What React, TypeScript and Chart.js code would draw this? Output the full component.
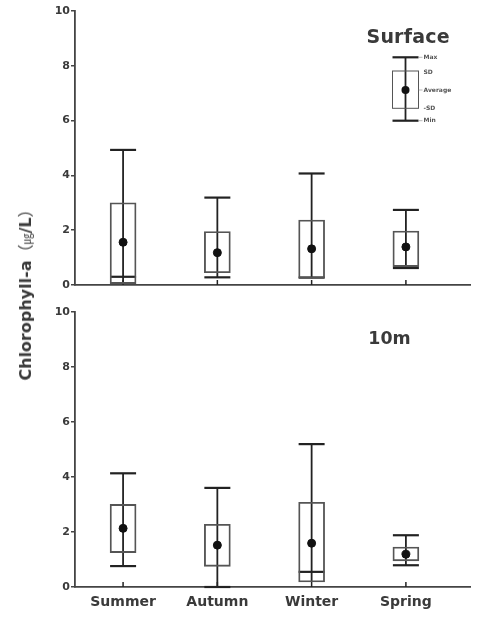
import React, { useEffect, useRef } from 'react';
import { Chart, registerables } from 'chart.js';

Chart.register(...registerables);

const categories = ['Summer', 'Autumn', 'Winter', 'Spring'];
const yTickValues = [0, 2, 4, 6, 8, 10];

const surfaceMax = [4.93, 3.19, 4.07, 2.74];
const surfaceSdHigh = [3.0, 1.95, 2.37, 1.97];
const surfaceMean = [1.56, 1.18, 1.32, 1.39];
const surfaceSdLow = [0.05, 0.45, 0.25, 0.67];
const surfaceMin = [0.3, 0.28, 0.27, 0.62];

const tenMax = [4.13, 3.6, 5.19, 1.88];
const tenSdHigh = [3.0, 2.28, 3.08, 1.45];
const tenMean = [2.13, 1.52, 1.59, 1.19];
const tenSdLow = [1.25, 0.75, 0.18, 0.95];
const tenMin = [0.76, 0, 0.55, 0.79];

const legendLabels = ['Max', 'SD', 'Average', '-SD', 'Min'];

const FONT = "'DejaVu Sans', Arial, sans-serif";
const CJK = "'Noto Sans CJK KR', 'Noto Sans CJK SC', sans-serif";
const AXIS = '#444';
const TEXT = '#3a3a3a';

type Panel = {
  max: number[];
  sdHigh: number[];
  mean: number[];
  sdLow: number[];
  min: number[];
  title: string;
  titleX: number;
  titleY: number;
  titleSize: number;
  titleSpacing: string;
  showLabels: boolean;
  legend: boolean;
  padTop: number;
  padBottom: number;
  xHeight: number;
};

function makeChart(canvas: HTMLCanvasElement, p: Panel) {
  const whiskerPlugin = {
    id: 'whiskers',
    beforeDatasetsDraw(chart: any) {
      const ctx = chart.ctx;
      const xs = chart.scales.x;
      const ys = chart.scales.y;
      const area = chart.chartArea;
      ctx.save();
      ctx.strokeStyle = '#222';
      ctx.lineWidth = 1.5;
      categories.forEach((_, i) => {
        const x = xs.getPixelForValue(i + 1);
        ctx.beginPath();
        ctx.moveTo(x, area.bottom);
        ctx.lineTo(x, area.bottom - 5);
        ctx.stroke();
      });
      categories.forEach((_, i) => {
        const x = xs.getPixelForValue(i + 1);
        const yTop = ys.getPixelForValue(p.max[i]);
        const yBot = ys.getPixelForValue(Math.min(p.min[i], p.sdLow[i]));
        ctx.lineWidth = 1.8;
        ctx.beginPath();
        ctx.moveTo(x, yTop);
        ctx.lineTo(x, yBot);
        ctx.stroke();
        ctx.lineWidth = 2.2;
        [p.max[i], p.min[i]].forEach((v) => {
          const y = ys.getPixelForValue(v);
          ctx.beginPath();
          ctx.moveTo(x - 13, y);
          ctx.lineTo(x + 13, y);
          ctx.stroke();
        });
      });
      ctx.restore();
    },
    afterDraw(chart: any) {
      const ctx = chart.ctx;
      ctx.save();
      ctx.fillStyle = TEXT;
      ctx.font = `bold ${p.titleSize}px ${FONT}`;
      (ctx as any).letterSpacing = p.titleSpacing;
      ctx.textAlign = 'left';
      ctx.textBaseline = 'alphabetic';
      ctx.fillText(p.title, p.titleX, p.titleY);
      (ctx as any).letterSpacing = '0px';
      if (p.legend) {
        const cx = 405.5;
        const hw = 13;
        const yMax = 57.3, ySd = 71, yAvg = 90, yNsd = 108.3, yMin = 120.7;
        ctx.strokeStyle = '#222';
        ctx.lineWidth = 1.8;
        ctx.beginPath();
        ctx.moveTo(cx, yMax);
        ctx.lineTo(cx, yMin);
        ctx.stroke();
        ctx.lineWidth = 2.2;
        [yMax, yMin].forEach((y) => {
          ctx.beginPath();
          ctx.moveTo(cx - hw, y);
          ctx.lineTo(cx + hw, y);
          ctx.stroke();
        });
        ctx.strokeStyle = '#555';
        ctx.lineWidth = 1;
        ctx.strokeRect(cx - hw, ySd, hw * 2, yNsd - ySd);
        ctx.lineWidth = 0.6;
        ctx.strokeStyle = '#888';
        [yMax, yAvg, yMin].forEach((y) => {
          ctx.beginPath();
          ctx.moveTo(cx + hw, y);
          ctx.lineTo(cx + hw + 4, y);
          ctx.stroke();
        });
        ctx.fillStyle = '#111';
        ctx.beginPath();
        ctx.arc(cx, yAvg, 4, 0, Math.PI * 2);
        ctx.fill();
        ctx.fillStyle = '#555';
        ctx.font = `bold 6px ${FONT}`;
        ctx.textBaseline = 'middle';
        const ys = [yMax, ySd + 1, yAvg, yNsd, yMin];
        legendLabels.forEach((t, i) => ctx.fillText(t, cx + hw + 5, ys[i]));
      }
      ctx.restore();
    },
  };

  return new Chart(canvas, {
    type: 'bar',
    data: {
      datasets: [
        {
          type: 'bar',
          data: categories.map((_, i) => ({ x: i + 1, y: [p.sdLow[i], p.sdHigh[i]] })) as any,
          backgroundColor: 'rgba(0,0,0,0)',
          borderColor: '#555',
          borderWidth: 1.2,
          borderSkipped: false,
          barThickness: 26,
        } as any,
        {
          type: 'scatter',
          data: categories.map((_, i) => ({ x: i + 1, y: p.mean[i] })),
          backgroundColor: '#111',
          borderColor: '#111',
          pointRadius: 4,
          pointHoverRadius: 4,
        } as any,
      ],
    },
    options: {
      responsive: false,
      animation: false,
      devicePixelRatio: 1,
      layout: { padding: { left: 30, right: 9, top: p.padTop, bottom: p.padBottom } },
      plugins: { legend: { display: false }, tooltip: { enabled: false } },
      scales: {
        x: {
          type: 'linear',
          min: 0.49,
          max: 4.68,
          offset: false,
          afterBuildTicks: (s: any) => {
            s.ticks = categories.map((_, i) => ({ value: i + 1 }));
          },
          afterFit: (s: any) => {
            s.height = p.xHeight;
          },
          ticks: {
            display: p.showLabels,
            autoSkip: false,
            maxRotation: 0,
            padding: 7,
            color: TEXT,
            font: { family: FONT, size: 14, weight: 'bold' },
            callback: (v: any) => categories[Math.round(Number(v)) - 1] ?? '',
          },
          grid: { display: false, drawTicks: false },
          border: { display: true, color: AXIS, width: 1.8 },
        },
        y: {
          type: 'linear',
          min: 0,
          max: 10,
          afterBuildTicks: (s: any) => {
            s.ticks = yTickValues.map((v) => ({ value: v }));
          },
          afterFit: (s: any) => {
            s.width = 45;
          },
          ticks: {
            padding: 1,
            color: TEXT,
            font: { family: FONT, size: 11, weight: 'bold' },
          },
          grid: { display: true, drawOnChartArea: false, drawTicks: true, tickLength: 4, color: AXIS, lineWidth: 1.5 },
          border: { display: true, color: AXIS, width: 1.8 },
        },
      },
    } as any,
    plugins: [whiskerPlugin],
  });
}

export default function App() {
  const topRef = useRef<HTMLCanvasElement>(null);
  const botRef = useRef<HTMLCanvasElement>(null);

  useEffect(() => {
    const c1 = makeChart(topRef.current!, {
      max: surfaceMax,
      sdHigh: surfaceSdHigh,
      mean: surfaceMean,
      sdLow: surfaceSdLow,
      min: surfaceMin,
      title: 'Surface',
      titleX: 366.5,
      titleY: 42.5,
      titleSize: 19,
      titleSpacing: '0.2px',
      showLabels: false,
      legend: true,
      padTop: 11,
      padBottom: 15,
      xHeight: 0,
    });
    const c2 = makeChart(botRef.current!, {
      max: tenMax,
      sdHigh: tenSdHigh,
      mean: tenMean,
      sdLow: tenSdLow,
      min: tenMin,
      title: '10m',
      titleX: 368.3,
      titleY: 44.3,
      titleSize: 17.4,
      titleSpacing: '0px',
      showLabels: true,
      legend: false,
      padTop: 11.7,
      padBottom: 0,
      xHeight: 30,
    });
    return () => {
      c1.destroy();
      c2.destroy();
    };
  }, []);

  return (
    <div style={{ position: 'fixed', left: 0, top: 0, width: 479, height: 617, background: '#fff', overflow: 'hidden' }}>
      <canvas ref={topRef} width={479} height={300} style={{ position: 'absolute', left: 0, top: 0, width: 479, height: 300 }} />
      <canvas ref={botRef} width={479} height={317} style={{ position: 'absolute', left: 0, top: 300, width: 479, height: 317 }} />
      <div
        style={{
          position: 'absolute',
          left: 25,
          top: 291,
          transform: 'translate(-50%, -50%) rotate(-90deg)',
          whiteSpace: 'nowrap',
          fontFamily: FONT,
          fontWeight: 'bold',
          fontSize: 16,
          color: TEXT,
          lineHeight: 1,
        }}
      >
        Chlorophyll-a
        <span style={{ fontFamily: CJK, fontWeight: 'normal' }}>（</span>
        <span style={{ fontFamily: CJK, fontWeight: 'normal', fontSize: 11 }}>㎍</span>
        /L
        <span style={{ fontFamily: CJK, fontWeight: 'normal' }}>）</span>
      </div>
    </div>
  );
}
